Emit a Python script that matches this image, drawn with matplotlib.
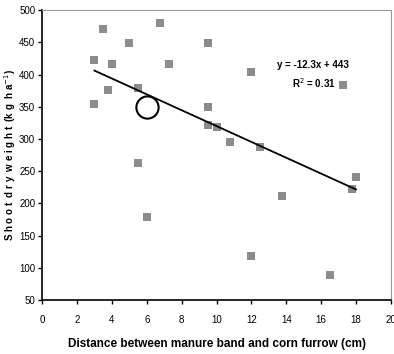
import numpy as np
import matplotlib.pyplot as plt

plt.rcParams['font.family'] = ['Liberation Sans Narrow', 'Liberation Sans', 'DejaVu Sans']

# Distance (cm) and shoot dry weight (kg/ha)
distance = [3, 3.5, 3, 3.75, 4, 5, 5.5, 5.5, 6, 6.75, 7.25,
            9.5, 9.5, 9.5, 10, 10.75, 12, 12, 12.5, 13.75,
            16.5, 17.25, 17.75, 18]
weight = [423, 471, 354, 376, 416, 449, 379, 263, 179, 480, 416,
          449, 350, 321, 319, 295, 404, 118, 288, 212,
          89, 384, 222, 241]

slope, intercept = -12.3, 443
fit_x = [3, 18]
highlight = (6, 350)

W, H = 394, 354
fig = plt.figure(figsize=(W / 100, H / 100), dpi=100)
ax = fig.add_axes([0.107, 0.1525, 0.885, 0.819])

ax.plot(distance, weight, 's', color='#8c8c8c', markersize=5.2, markeredgewidth=0)
fx = np.array(fit_x)
ax.plot(fx, slope * fx + intercept, color='black', lw=1.3)
ax.plot(*highlight, 'o', markersize=16, markerfacecolor='none',
        markeredgecolor='black', markeredgewidth=1.5)

fig.text(313 / W, 1 - 65 / H, 'y = -12.3x + 443', fontsize=7, fontweight='bold',
         ha='center', va='center')
fig.text(314 / W, 1 - 83 / H, 'R$^2$ = 0.31', fontsize=7, fontweight='bold',
         ha='center', va='center')

ax.set_xlim(0, 20)
ax.set_ylim(50, 500)
ax.set_xticks(range(0, 21, 2))
ax.set_yticks(range(50, 501, 50))
ax.tick_params(labelsize=7, length=3, width=1, direction='out', pad=8)
ax.tick_params(axis='y', pad=2)

for s in ['top', 'right']:
    ax.spines[s].set_color('#999999')
for s in ['left', 'bottom']:
    ax.spines[s].set_color('black')
    ax.spines[s].set_linewidth(1.2)

ax.set_xlabel('Distance between manure band and corn furrow (cm)',
              fontsize=8.5, fontweight='bold', labelpad=9)
ax.set_ylabel('S h o o t  d r y  w e i g h t  (k g  h a$^{-1}$)',
              fontsize=7, fontweight='bold')
ax.yaxis.set_label_coords(-0.068, 0.5)

fig.savefig('out.png', dpi=100)
